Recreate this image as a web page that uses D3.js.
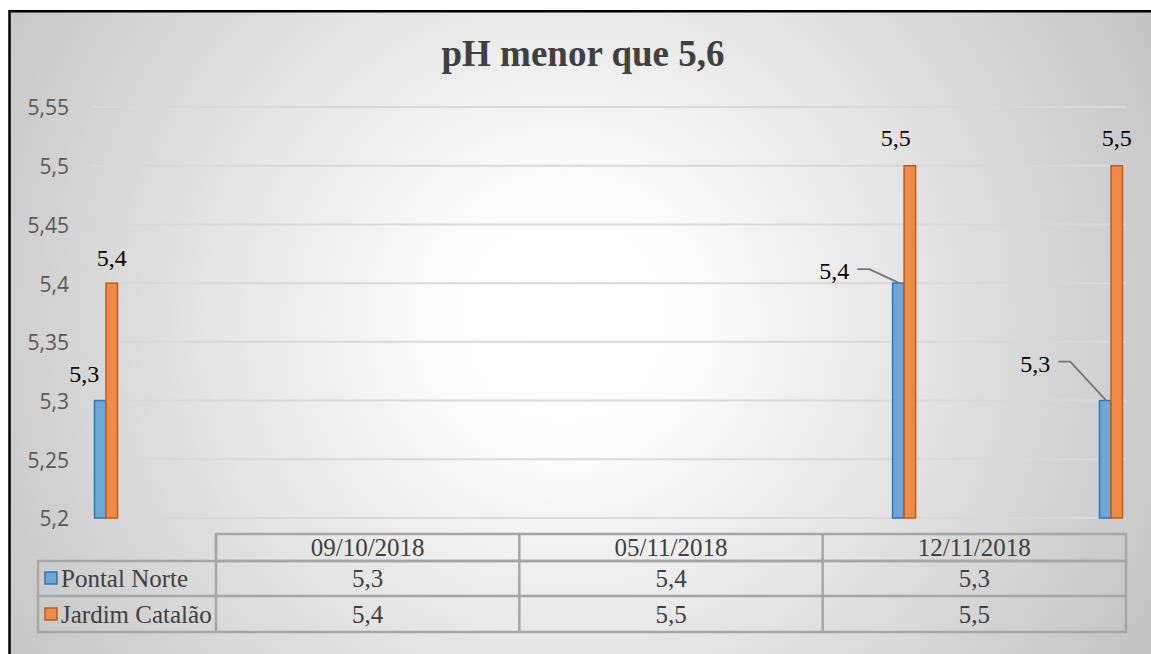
<!DOCTYPE html>
<html>
<head>
<meta charset="utf-8">
<script src="https://cdn.jsdelivr.net/npm/d3@7"></script>
<style>
  body { margin: 0; background: #fff; }
  svg { display: block; }
</style>
</head>
<body>
<div id="chart"></div>
<script>
// chart values
const dates = ['09/10/2018', '05/11/2018', '12/11/2018']
const seriesNames = ['Pontal Norte', 'Jardim Catalão']
const pontalNorte = [5.3, 5.4, 5.3]
const jardimCatalao = [5.4, 5.5, 5.5]
const yTicks = [5.2, 5.25, 5.3, 5.35, 5.4, 5.45, 5.5, 5.55]

const colors = [
  { fill: '#6fa6da', stroke: '#2e75b6' },
  { fill: '#ee8b4b', stroke: '#c55a11' }
]

// label displacement from the top of each bar (the labels were dragged by hand)
const labelOffsets = [
  [{ dx: -16, dy: -19, leader: false }, { dx: -64, dy: -4, leader: true }, { dx: -70, dy: -29, leader: true }],
  [{ dx: 0, dy: -17, leader: false }, { dx: -14, dy: -20, leader: false }, { dx: 0, dy: -20, leader: false }]
]

const W = 1151, H = 654
const parse = d3.timeParse('%d/%m/%Y')
const fmt = d3.format('.2~f')
const comma = v => fmt(v).replace('.', ',')

const svg = d3.select('#chart').append('svg')
  .attr('width', W)
  .attr('height', H)

const defs = svg.append('defs')
const grad = defs.append('radialGradient')
  .attr('id', 'bg')
  .attr('gradientUnits', 'userSpaceOnUse')
  .attr('cx', 565).attr('cy', 320).attr('r', 660)
grad.append('stop').attr('offset', 0).attr('stop-color', '#ffffff')
grad.append('stop').attr('offset', 0.2).attr('stop-color', '#fcfcfc')
grad.append('stop').attr('offset', 1).attr('stop-color', '#c4c4c4')

// chart area with border (runs past the right and bottom edge)
svg.append('rect')
  .attr('x', 9.5).attr('y', 11.25)
  .attr('width', W + 40).attr('height', H + 40)
  .attr('fill', 'url(#bg)')
  .attr('stroke', '#000')
  .attr('stroke-width', 2.5)

// title
svg.append('text')
  .attr('x', 583).attr('y', 66)
  .attr('text-anchor', 'middle')
  .attr('font-family', '"Liberation Serif", "Times New Roman", serif')
  .attr('font-weight', 'bold')
  .attr('font-size', 37)
  .attr('fill', '#404040')
  .text('pH menor que 5,6')

// scales
const x = d3.scaleTime()
  .domain([parse(dates[0]), parse(dates[dates.length - 1])])
  .range([106, 1111])

const y = d3.scaleLinear()
  .domain([5.2, 5.55])
  .range([518, 107])

const barW = 11.5

// gridlines
svg.append('g')
  .selectAll('line')
  .data(yTicks)
  .join('line')
    .attr('x1', 92).attr('x2', 1126)
    .attr('y1', d => y(d)).attr('y2', d => y(d))
    .attr('stroke', '#d9d9d9')
    .attr('stroke-width', 2)

// y axis labels
const yAxis = svg.append('g')
  .attr('transform', 'translate(69,0)')
  .call(d3.axisLeft(y).tickValues(yTicks).tickFormat(comma).tickSize(0).tickPadding(0))
yAxis.select('.domain').remove()
yAxis.selectAll('text')
  .attr('font-family', '"Open Sans", sans-serif')
  .attr('font-size', 21)
  .attr('fill', '#595959')
  .attr('dy', '0.38em')

// bars
const series = [pontalNorte, jardimCatalao]
series.forEach(function(values, s) {
  const g = svg.append('g')
  g.selectAll('rect')
    .data(values)
    .join('rect')
      .attr('x', (d, i) => x(parse(dates[i])) + (s === 0 ? -barW : 0))
      .attr('y', d => y(d))
      .attr('width', barW)
      .attr('height', d => y(5.2) - y(d))
      .attr('fill', colors[s].fill)
      .attr('stroke', colors[s].stroke)
      .attr('stroke-width', 1.5)
})

// data labels
series.forEach(function(values, s) {
  values.forEach(function(v, i) {
    const bx = x(parse(dates[i])) + (s === 0 ? -barW / 2 : barW / 2)
    const by = y(v)
    const off = labelOffsets[s][i]
    const lx = bx + off.dx
    const ly = by + off.dy
    const t = svg.append('text')
      .attr('x', lx).attr('y', ly)
      .attr('text-anchor', 'middle')
      .attr('font-family', '"Liberation Serif", "Times New Roman", serif')
      .attr('font-size', 24)
      .attr('fill', '#000')
      .text(comma(v))
    if (off.leader) {
      const w = t.node().getComputedTextLength()
      const sx = lx + w / 2 + 8
      const sy = ly - 10
      svg.append('path')
        .attr('d', d3.line()([[sx, sy], [sx + 12, sy], [bx + 1, by]]))
        .attr('fill', 'none')
        .attr('stroke', '#767676')
        .attr('stroke-width', 1.8)
    }
  })
})

// data table
const col = d3.scaleBand()
  .domain(dates)
  .range([216, 1126])
const rows = [534, 561, 596, 632]
const tableLeft = 38
const tableFont = '"Liberation Serif", "Times New Roman", serif'
const tg = svg.append('g')
  .attr('stroke', '#a6a6a6')
  .attr('stroke-width', 2.5)
  .attr('fill', 'none')

// header row
tg.append('rect')
  .attr('x', col.range()[0]).attr('y', rows[0])
  .attr('width', col.range()[1] - col.range()[0])
  .attr('height', rows[1] - rows[0])
// body
tg.append('rect')
  .attr('x', tableLeft).attr('y', rows[1])
  .attr('width', col.range()[1] - tableLeft)
  .attr('height', rows[3] - rows[1])
tg.append('line')
  .attr('x1', tableLeft).attr('x2', col.range()[1])
  .attr('y1', rows[2]).attr('y2', rows[2])
tg.selectAll('line.col')
  .data(dates.slice(1))
  .join('line')
    .attr('class', 'col')
    .attr('x1', d => col(d)).attr('x2', d => col(d))
    .attr('y1', rows[0]).attr('y2', rows[3])
tg.append('line')
  .attr('x1', col(dates[0])).attr('x2', col(dates[0]))
  .attr('y1', rows[0]).attr('y2', rows[3])

svg.append('g')
  .selectAll('text')
  .data(dates)
  .join('text')
    .attr('x', d => col(d) + col.bandwidth() / 2)
    .attr('y', 556)
    .attr('text-anchor', 'middle')
    .attr('font-family', tableFont)
    .attr('font-size', 25)
    .attr('fill', '#404040')
    .text(d => d)

const rowBase = [587, 623]
series.forEach(function(values, s) {
  svg.append('rect')
    .attr('x', 45).attr('y', rowBase[s] - 15)
    .attr('width', 12).attr('height', 12)
    .attr('fill', colors[s].fill)
    .attr('stroke', colors[s].stroke)
    .attr('stroke-width', 1.5)
  svg.append('text')
    .attr('x', 61).attr('y', rowBase[s])
    .attr('font-family', tableFont)
    .attr('font-size', 25)
    .attr('fill', '#404040')
    .text(seriesNames[s])
  svg.append('g')
    .selectAll('text')
    .data(values)
    .join('text')
      .attr('x', (d, i) => col(dates[i]) + col.bandwidth() / 2)
      .attr('y', rowBase[s])
      .attr('text-anchor', 'middle')
      .attr('font-family', tableFont)
      .attr('font-size', 25)
      .attr('fill', '#404040')
      .text(d => comma(d))
})
</script>
</body>
</html>
